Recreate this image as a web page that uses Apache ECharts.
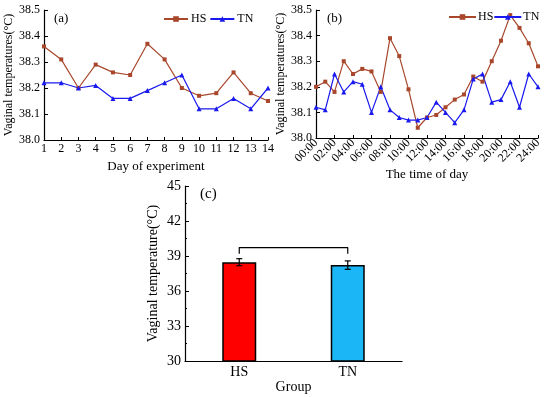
<!DOCTYPE html>
<html><head><meta charset="utf-8">
<script src="https://cdn.jsdelivr.net/npm/echarts@6/dist/echarts.min.js"></script>
<style>html,body{margin:0;padding:0;background:#fff}#c{width:550px;height:397px}</style>
</head><body><div id="c"></div>
<script>
var days = ['1','2','3','4','5','6','7','8','9','10','11','12','13','14'];
var dayHS = [38.36,38.31,38.20,38.29,38.26,38.25,38.37,38.31,38.20,38.17,38.18,38.26,38.18,38.15];
var dayTN = [38.22,38.22,38.20,38.21,38.16,38.16,38.19,38.22,38.25,38.12,38.12,38.16,38.12,38.20];
var hours = ['00:00','01:00','02:00','03:00','04:00','05:00','06:00','07:00','08:00','09:00','10:00','11:00','12:00','13:00','14:00','15:00','16:00','17:00','18:00','19:00','20:00','21:00','22:00','23:00','24:00'];
var hourHS = [38.20,38.22,38.18,38.30,38.25,38.27,38.26,38.18,38.39,38.32,38.19,38.04,38.08,38.09,38.12,38.15,38.17,38.24,38.22,38.30,38.38,38.48,38.43,38.37,38.28];
var hourTN = [38.12,38.11,38.25,38.18,38.22,38.21,38.10,38.20,38.11,38.08,38.07,38.07,38.08,38.14,38.10,38.06,38.11,38.23,38.25,38.14,38.15,38.22,38.12,38.25,38.20];
var groups = ['HS','TN'];
var groupMean = [38.47,38.22];
var groupErr = [0.3,0.36];
var bracketLow = 39.2, bracketHigh = 39.72;

var FONT = 'Liberation Serif';
var cHS = '#a8472b', cTN = '#1a1aee';
var chart = echarts.init(document.getElementById('c'), null, {renderer:'canvas'});

function valAxis(gi, min, max, interval, name, gap, fs, minor){
  return {type:'value', gridIndex:gi, min:min, max:max, interval:interval,
    name:name, nameLocation:'middle', nameGap:gap,
    nameTextStyle:{fontFamily:FONT, fontSize:fs, color:'#000'},
    axisLine:{show:true, lineStyle:{color:'#000', width:1.2}},
    axisTick:{show:true, inside:true, length:4, lineStyle:{color:'#000'}},
    minorTick:{show:!!minor, splitNumber:2, length:2, lineStyle:{color:'#000'}},
    splitLine:{show:false},
    axisLabel:{fontFamily:FONT, fontSize:fs, color:'#000', margin:4,
      formatter:function(v){return interval<1? v.toFixed(1): String(v);}}};
}

chart.setOption({
  animation:false,
  textStyle:{fontFamily:FONT},
  grid:[
    {left:44, top:10, width:224, height:130},
    {left:316, top:10, width:222, height:128},
    {left:185, top:186, width:217, height:175}
  ],
  legend:[
    {left:158, top:8, itemWidth:24, itemHeight:7, itemGap:3, data:['HS','TN'],
     textStyle:{fontFamily:FONT, fontSize:12, color:'#000', padding:[0,0,0,-2]}},
    {left:443, top:6, itemWidth:27, itemHeight:7, itemGap:0, data:['HS','TN'],
     textStyle:{fontFamily:FONT, fontSize:12, color:'#000', padding:[0,0,0,-3]}}
  ],
  title:[
    {text:'(a)', left:49, top:7, textStyle:{fontFamily:FONT, fontSize:13, fontWeight:'normal', color:'#000'}},
    {text:'(b)', left:322, top:7, textStyle:{fontFamily:FONT, fontSize:13, fontWeight:'normal', color:'#000'}},
    {text:'(c)', left:195, top:182, textStyle:{fontFamily:FONT, fontSize:15, fontWeight:'normal', color:'#000'}}
  ],
  xAxis:[
    {type:'category', gridIndex:0, data:days, boundaryGap:false,
     name:'Day of experiment', nameLocation:'middle', nameGap:20,
     nameTextStyle:{fontFamily:FONT, fontSize:13, color:'#000'},
     axisLine:{lineStyle:{color:'#000', width:1.2}},
     axisTick:{inside:true, length:3, alignWithLabel:true, lineStyle:{color:'#000'}},
     axisLabel:{fontFamily:FONT, fontSize:12, color:'#000', margin:3, interval:0}},
    {type:'category', gridIndex:1, data:hours, boundaryGap:false,
     name:'The time of day', nameLocation:'middle', nameGap:24,
     nameTextStyle:{fontFamily:FONT, fontSize:13, color:'#000'},
     axisLine:{lineStyle:{color:'#000', width:1.2}},
     axisTick:{inside:true, length:3, interval:1, lineStyle:{color:'#000'}},
     axisLabel:{fontFamily:FONT, fontSize:12, color:'#000', margin:3, interval:1, rotate:45}},
    {type:'category', gridIndex:2, data:groups, boundaryGap:true,
     name:'Group', nameLocation:'middle', nameGap:17,
     nameTextStyle:{fontFamily:FONT, fontSize:14, color:'#000'},
     axisLine:{lineStyle:{color:'#000', width:1.2}},
     axisTick:{inside:true, length:4, lineStyle:{color:'#000'}},
     axisLabel:{fontFamily:FONT, fontSize:14, color:'#000', margin:4}}
  ],
  yAxis:[
    valAxis(0, 38.0, 38.5, 0.1, 'Vaginal temperatures(°C)', 25, 12, false),
    valAxis(1, 38.0, 38.5, 0.1, 'Vaginal temperatures(°C)', 29, 12, false),
    valAxis(2, 30, 45, 3, 'Vaginal temperature(°C)', 25, 14, true)
  ],
  series:[
    {name:'HS', type:'line', xAxisIndex:0, yAxisIndex:0, data:dayHS, symbol:'rect', symbolSize:4,
     lineStyle:{color:cHS, width:1.2}, itemStyle:{color:cHS}},
    {name:'TN', type:'line', xAxisIndex:0, yAxisIndex:0, data:dayTN, symbol:'triangle', symbolSize:5,
     lineStyle:{color:cTN, width:1.2}, itemStyle:{color:cTN}},
    {name:'HS', type:'line', xAxisIndex:1, yAxisIndex:1, data:hourHS, symbol:'rect', symbolSize:4,
     lineStyle:{color:cHS, width:1.2}, itemStyle:{color:cHS}},
    {name:'TN', type:'line', xAxisIndex:1, yAxisIndex:1, data:hourTN, symbol:'triangle', symbolSize:5,
     lineStyle:{color:cTN, width:1.2}, itemStyle:{color:cTN}},
    {type:'bar', xAxisIndex:2, yAxisIndex:2, barWidth:34,
     data:[{value:groupMean[0], itemStyle:{color:'#ff0000'}},{value:groupMean[1], itemStyle:{color:'#1ab6f6'}}],
     itemStyle:{borderColor:'#000', borderWidth:1.5}},
    {type:'custom', xAxisIndex:2, yAxisIndex:2, z:5,
     data:groupMean.map(function(m,i){return [i, m-groupErr[i], m+groupErr[i]];}),
     renderItem:function(params, api){
       var lo = api.coord([api.value(0), api.value(1)]);
       var hi = api.coord([api.value(0), api.value(2)]);
       var s = {stroke:'#000', lineWidth:1.2};
       return {type:'group', children:[
         {type:'line', shape:{x1:lo[0], y1:lo[1], x2:hi[0], y2:hi[1]}, style:s},
         {type:'line', shape:{x1:lo[0]-3, y1:lo[1], x2:lo[0]+3, y2:lo[1]}, style:s},
         {type:'line', shape:{x1:hi[0]-3, y1:hi[1], x2:hi[0]+3, y2:hi[1]}, style:s}
       ]};
     }},
    {type:'line', xAxisIndex:2, yAxisIndex:2, symbol:'none', z:5,
     data:[[0,bracketLow],[0,bracketHigh],[1,bracketHigh],[1,bracketLow]],
     lineStyle:{color:'#000', width:1.2}}
  ]
});
</script></body></html>
